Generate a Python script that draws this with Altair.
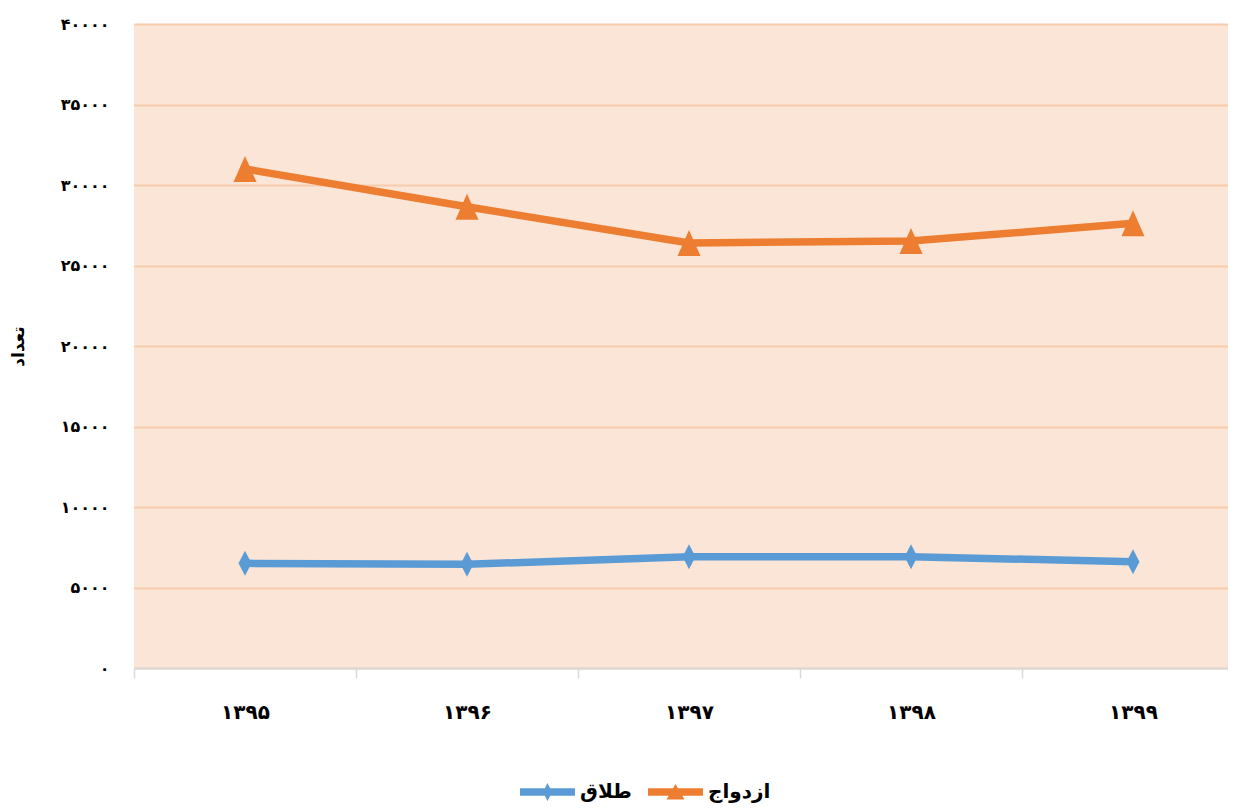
import altair as alt
import pandas as pd

# ---- data ----
years = ['۱۳۹۵', '۱۳۹۶', '۱۳۹۷', '۱۳۹۸', '۱۳۹۹']
series_names = ['طلاق', 'ازدواج']
divorce = [6500, 6440, 6910, 6910, 6600]
marriage = [31000, 28650, 26400, 26520, 27620]
y_ticks = [0, 5000, 10000, 15000, 20000, 25000, 30000, 35000, 40000]
y_tick_labels = ['۰', '۵۰۰۰', '۱۰۰۰۰', '۱۵۰۰۰', '۲۰۰۰۰', '۲۵۰۰۰', '۳۰۰۰۰', '۳۵۰۰۰', '۴۰۰۰۰']
y_title = 'تعداد'

rows = []
for y, d, m in zip(years, divorce, marriage):
    rows.append({'year': y, 'series': series_names[0], 'value': d})
    rows.append({'year': y, 'series': series_names[1], 'value': m})
df = pd.DataFrame(rows)

colors = ['#5B9BD5', '#ED7D31']
FONT = 'DejaVu Sans'

label_expr = ("[" + ",".join(f"'{s}'" for s in y_tick_labels) + "][indexof(["
              + ",".join(str(t) for t in y_ticks) + "], datum.value)]")

x_enc = alt.X('year:N', sort=years, title=None,
              scale=alt.Scale(paddingInner=0, paddingOuter=0, range=[0, 1110]),
              axis=alt.Axis(labelAngle=0, tickBand='extent', domainColor='#D9D9D9',
                            domainWidth=2, tickColor='#D9D9D9', tickWidth=1.5,
                            tickSize=10, labelPadding=24, labelFontSize=20,
                            labelFontWeight='bold', labelFont=FONT, labelColor='#000000',
                            grid=False))
y_enc = alt.Y('value:Q', title=y_title,
              scale=alt.Scale(domain=[0, 40000], nice=False),
              axis=alt.Axis(values=y_ticks, labelExpr=label_expr, domain=False, ticks=False,
                            gridColor='#F8CBAD', gridWidth=2, labelPadding=25,
                            labelFontSize=16, labelFontWeight='bold', labelFont=FONT,
                            labelColor='#000000', titleFont=FONT, titleFontSize=17,
                            titleFontWeight='bold', titleColor='#000000', titlePadding=33))

base = alt.Chart(df).encode(x=x_enc, y=y_enc)

diamond_path = 'M0,-1L0.52,0L0,1L-0.52,0Z'
triangle_path = 'M0,-1.13L1,1.13L-1,1.13Z'
marker_paths = [diamond_path, triangle_path]
marker_sizes = [625, 529]

layers = []
for name, col in zip(series_names, colors):
    sub = base.transform_filter(alt.datum.series == name)
    layers.append(sub.mark_line(strokeWidth=7.5, color=col))
for name, col, path, sz in zip(series_names, colors, marker_paths, marker_sizes):
    sub = base.transform_filter(alt.datum.series == name)
    layers.append(sub.mark_point(filled=True, opacity=1, shape=path, size=sz, color=col))

leg_div = 'M-1,-0.37L4.5,-0.37L4.5,0.37L-1,0.37ZM1.75,-0.9L2.2,0L1.75,0.9L1.3,0Z'
leg_mar = 'M-1,-0.37L4.5,-0.37L4.5,0.37L-1,0.37ZM1.75,-0.8L2.65,0.75L0.85,0.75Z'

leg_kw = dict(title=None, orient='none', legendX=386, legendY=758,
              direction='horizontal', symbolSize=400, symbolStrokeWidth=0,
              labelOffset=40, columnPadding=16,
              labelFont=FONT, labelFontSize=20, labelFontWeight='bold',
              labelColor='#000000')

# legend-only layer: no rows drawn, entries come from the explicit scale domain
legend_layer = base.transform_filter('false').mark_point(filled=True, opacity=1, size=400).encode(
    color=alt.Color('series:N', scale=alt.Scale(domain=series_names, range=colors),
                    legend=alt.Legend(**leg_kw)),
    shape=alt.Shape('series:N', scale=alt.Scale(domain=series_names, range=[leg_div, leg_mar]),
                    legend=alt.Legend(**leg_kw)))
layers.append(legend_layer)

chart = alt.layer(*layers).properties(
    width=1094, height=644,
    autosize=alt.AutoSizeParams(type='none'),
    padding={'left': 126, 'top': 16, 'right': 0, 'bottom': 135},
    background='#FFFFFF'
).configure_view(fill='#FBE5D6', stroke=None)

chart.save('out.html', embed_options={'renderer': 'svg', 'actions': False})
